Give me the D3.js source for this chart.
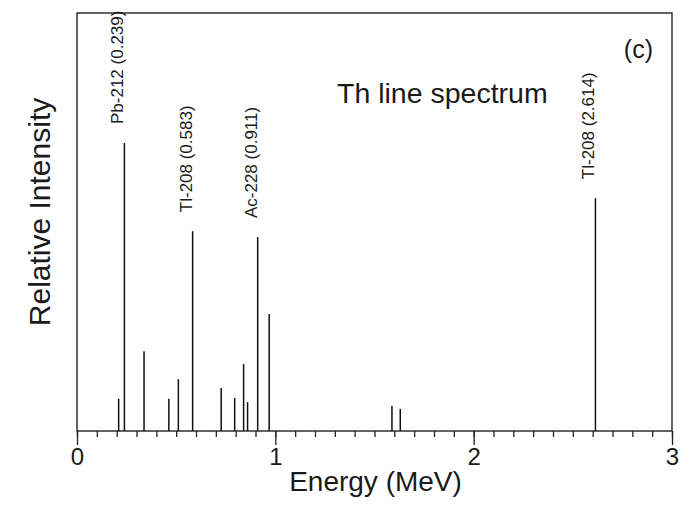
<!DOCTYPE html>
<html>
<head>
<meta charset="utf-8">
<script src="https://cdn.jsdelivr.net/npm/d3@7"></script>
<style>
  html, body { margin: 0; padding: 0; background: #fff; }
  svg { display: block; }
  text { font-family: "Liberation Sans", Arial, sans-serif; fill: #1a1a1a; }
</style>
</head>
<body>
<svg id="chart" width="691" height="505"></svg>
<script>
// Gamma line energies (MeV) of the thorium decay chain
const energies = [0.210, 0.239, 0.338, 0.463, 0.511, 0.583, 0.727, 0.795, 0.840, 0.860, 0.911, 0.969, 1.588, 1.630, 2.614];
// Relative intensity of each line (percent of full scale)
const intensities = [7.7, 68.9, 19.1, 7.7, 12.4, 47.8, 10.3, 7.9, 16.0, 6.9, 46.4, 28.0, 6.0, 5.3, 55.7];

// Annotated lines
const peakNames = ["Pb-212 (0.239)", "Tl-208 (0.583)", "Ac-228 (0.911)", "Tl-208 (2.614)"];
const peakEnergies = [0.239, 0.583, 0.911, 2.614];

// Axis ticks
const majorTicks = [0, 1, 2, 3];
const majorTickLabels = ["0", "1", "2", "3"];
const minorTicks = d3.range(0, 31).map(i => i / 10);

const svg = d3.select("#chart");
const m = { left: 77, right: 672, top: 13, bottom: 431 };

const x = d3.scaleLinear().domain([0, 3]).range([m.left, m.right]);
const y = d3.scaleLinear().domain([0, 100]).range([m.bottom, m.top]);

// Minor ticks
svg.append("g")
  .attr("transform", `translate(0,${m.bottom})`)
  .call(d3.axisBottom(x).tickValues(minorTicks).tickSize(6).tickFormat(""))
  .call(g => g.select(".domain").remove())
  .call(g => g.selectAll("line").attr("stroke", "#222").attr("stroke-width", 1.3));

// Major ticks with labels
svg.append("g")
  .attr("transform", `translate(0,${m.bottom})`)
  .call(d3.axisBottom(x).tickValues(majorTicks).tickSize(14).tickPadding(3)
    .tickFormat((d, i) => majorTickLabels[i]))
  .call(g => g.select(".domain").remove())
  .call(g => g.selectAll("line").attr("stroke", "#222").attr("stroke-width", 1.3))
  .call(g => g.selectAll("text").attr("font-size", 24)
    .attr("font-family", "Liberation Sans, Arial, sans-serif").attr("fill", "#1a1a1a"));

// Spectrum lines
svg.append("g").selectAll("line")
  .data(energies)
  .join("line")
  .attr("x1", d => x(d)).attr("x2", d => x(d))
  .attr("y1", y(0))
  .attr("y2", (d, i) => y(intensities[i]))
  .attr("stroke", "#111")
  .attr("stroke-width", 1.5);

// Plot frame
svg.append("rect")
  .attr("x", m.left).attr("y", m.top)
  .attr("width", m.right - m.left).attr("height", m.bottom - m.top)
  .attr("fill", "none").attr("stroke", "#222").attr("stroke-width", 1.4);

// Vertical labels above the annotated lines
svg.append("g").selectAll("text")
  .data(peakNames)
  .join("text")
  .attr("transform", (d, i) => {
    const e = peakEnergies[i];
    const v = intensities[energies.indexOf(e)];
    return `translate(${x(e) - 1},${y(v) - 19}) rotate(-90)`;
  })
  .attr("font-size", 17)
  .attr("text-anchor", "start")
  .text(d => d);

// Title inside the plot
svg.append("text")
  .attr("x", 337).attr("y", 103)
  .attr("font-size", 28.5)
  .text("Th line spectrum");

// Panel letter
svg.append("text")
  .attr("x", 653).attr("y", 58)
  .attr("font-size", 25)
  .attr("text-anchor", "end")
  .text("(c)");

// Axis titles
svg.append("text")
  .attr("x", (m.left + m.right) / 2 + 1).attr("y", 491)
  .attr("font-size", 28)
  .attr("text-anchor", "middle")
  .text("Energy (MeV)");

svg.append("text")
  .attr("transform", `translate(50,212) rotate(-90)`)
  .attr("font-size", 30)
  .attr("text-anchor", "middle")
  .text("Relative Intensity");
</script>
</body>
</html>
